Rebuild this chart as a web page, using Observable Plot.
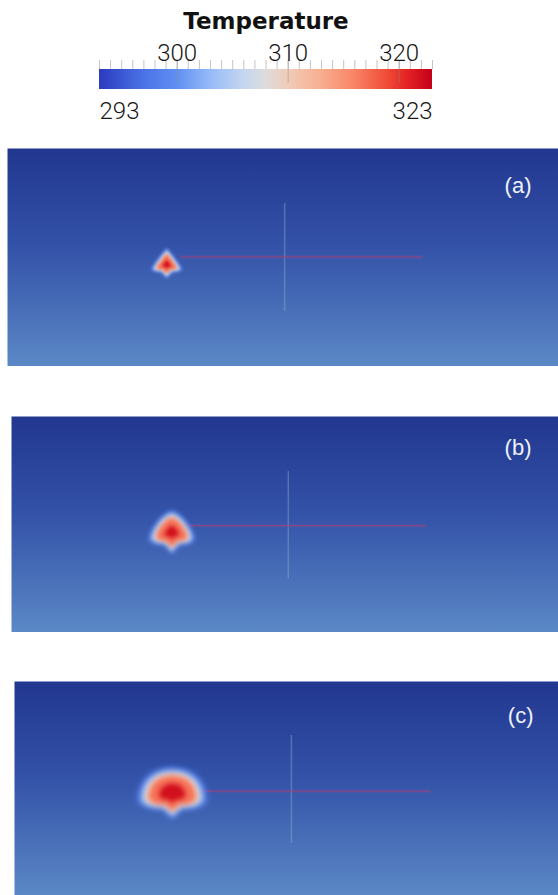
<!DOCTYPE html>
<html><head><meta charset="utf-8">
<script src="https://cdn.jsdelivr.net/npm/d3@7"></script>
<script src="https://cdn.jsdelivr.net/npm/@observablehq/plot@0.6"></script>
<style>
body{margin:0;background:#fff;}
#root{position:relative;width:558px;height:895px;overflow:hidden;background:#fff;}
#root > div{position:absolute;}
svg{display:block;}
</style></head><body><div id="root"></div>
<script>
// ---------- data ----------
const legendTitle = "Temperature";
const tempRange = [293, 323];
const majorTicks = [300, 310, 320];
const minorTicks = [293,294,295,296,297,298,299,300,301,302,303,304,305,306,307,308,309,310,311,312,313,314,315,316,317,318,319,320,321,322,323];
const rampTemps  = [293, 297, 300, 303, 306, 308, 310, 313, 316, 319, 321, 323];
const rampColors = ["#2b3bbf","#4a72e6","#5f8ff2","#96baf8","#c4d6f0","#dcdcdc","#f0ccb8","#f9ae90","#f88466","#f04a36","#e01e22","#c20018"];

const panelLabels = ["(a)", "(b)", "(c)"];
// hot spot centre (model units, x 0-100, y 0-40)
const spotX = [28.9, 29.3, 29.0];
const spotY = [18.7, 18.5, 19.1];
// isotherm levels and their half-widths (model units) per panel
const isoTemps = [298, 302, 307, 312, 317, 322];
const isoHalfWidthA = [3.0, 2.6, 2.3, 2.0, 1.7, 0.8];
const isoHalfWidthB = [4.4, 3.9, 3.5, 3.1, 2.7, 1.3];
const isoHalfWidthC = [6.7, 5.9, 5.3, 4.8, 4.2, 2.4];
// scan track (red line)
const trackY      = [20.1, 19.8, 19.5];
const trackStartX = [31.4, 31.4, 33.3];
const trackEndX   = [75.5, 76.0, 76.6];
// vertical probe line
const probeX  = [50.3, 50.6, 50.9];
const probeY1 = [10.1, 10.0, 9.7];
const probeY2 = [29.9, 29.8, 29.9];

// ---------- layout / style ----------
const layout = {
  legend: {width: 558, height: 130, barLeft: 99, barRight: 432, barTop: 69, barBottom: 89},
  panels: [
    {left: 7,  top: 148, width: 551, height: 218, labelDx: -27, labelDy: 37, blur: 1.6,
     shape: {top: 1.05, side: 0.3, k: 0.1, bw: 0.4, bottom: 0.5, tip: 0.9}},
    {left: 11, top: 416, width: 547, height: 216, labelDx: -27, labelDy: 31, blur: 2.0,
     shape: {top: 0.95, side: 0.3, k: 0.35, bw: 0.35, bottom: 0.55, tip: 0.95}},
    {left: 14, top: 681, width: 544, height: 214, labelDx: -25, labelDy: 34, blur: 2.6,
     shape: {top: 0.75, side: 0.2, k: 0.6, bw: 0.3, bottom: 0.48, tip: 0.75}}
  ]
};
const isoHalfWidth = [isoHalfWidthA, isoHalfWidthB, isoHalfWidthC];
const root = document.getElementById("root");

function place(node, left, top) {
  const div = document.createElement("div");
  div.style.left = left + "px";
  div.style.top = top + "px";
  div.appendChild(node);
  root.appendChild(div);
}
function addGradient(svg, id, stops, vertical) {
  const ns = "http://www.w3.org/2000/svg";
  const defs = document.createElementNS(ns, "defs");
  const g = document.createElementNS(ns, "linearGradient");
  g.setAttribute("id", id);
  g.setAttribute("x1", 0); g.setAttribute("y1", 0);
  g.setAttribute("x2", vertical ? 0 : 1); g.setAttribute("y2", vertical ? 1 : 0);
  stops.forEach(([o, c]) => {
    const s = document.createElementNS(ns, "stop");
    s.setAttribute("offset", o); s.setAttribute("stop-color", c);
    g.appendChild(s);
  });
  defs.appendChild(g);
  svg.insertBefore(defs, svg.firstChild);
}

// ---------- colour bar ----------
const L = layout.legend;
const numFont = "Roboto, 'Liberation Sans', sans-serif";
const legend = Plot.plot({
  width: L.width, height: L.height, margin: 0,
  x: {domain: tempRange, range: [L.barLeft, L.barRight], axis: null},
  y: {domain: [0, 1], range: [L.barBottom, L.barTop], axis: null},
  marks: [
    Plot.rect([tempRange], {x1: d => d[0], x2: d => d[1], y1: 0, y2: 1, fill: "url(#ramp)"}),
    Plot.ruleX(minorTicks, {x: d => d, y1: 1, y2: 1.45, stroke: "#c4c4c4", strokeWidth: 1}),
    Plot.ruleX(majorTicks, {x: d => d, y1: 0.3, y2: 1.45, stroke: "#8a8a8a", strokeOpacity: 0.45, strokeWidth: 1}),
    Plot.text(majorTicks, {x: d => d, y: 1, dy: -9, text: d => String(d), lineAnchor: "bottom",
      fontSize: 24, fontWeight: 300, fontFamily: numFont, fill: "#151515"}),
    Plot.text([legendTitle], {x: d3.mean(tempRange), y: 1, dy: -41, text: d => d, lineAnchor: "bottom",
      fontSize: 23, fontWeight: "bold", fontFamily: "'DejaVu Sans', sans-serif", fill: "#111"}),
    Plot.text([tempRange[0]], {x: d => d, y: 0, dy: 12, text: d => String(d), textAnchor: "start", lineAnchor: "top",
      fontSize: 24, fontWeight: 300, fontFamily: numFont, fill: "#151515"}),
    Plot.text([tempRange[1]], {x: d => d, y: 0, dy: 12, text: d => String(d), textAnchor: "end", lineAnchor: "top",
      fontSize: 24, fontWeight: 300, fontFamily: numFont, fill: "#151515"})
  ]
});
addGradient(legend, "ramp", rampTemps.map((t, j) => [(t - tempRange[0]) / (tempRange[1] - tempRange[0]), rampColors[j]]), false);
place(legend, 0, 0);

// ---------- panels ----------
function spotSymbol(s) {
  return {draw(ctx, size) {
    const r = Math.sqrt(size / Math.PI);
    const cy = (s.side - s.k * (s.side + s.top)) * r;
    ctx.moveTo(-r, s.side * r);
    ctx.bezierCurveTo(-r, cy, -s.k * r, -s.top * r, 0, -s.top * r);
    ctx.bezierCurveTo(s.k * r, -s.top * r, r, cy, r, s.side * r);
    ctx.quadraticCurveTo(0.9 * r, s.bottom * r, s.bw * r, s.bottom * r);
    ctx.lineTo(0, s.tip * r);
    ctx.lineTo(-s.bw * r, s.bottom * r);
    ctx.quadraticCurveTo(-0.9 * r, s.bottom * r, -r, s.side * r);
    ctx.closePath();
  }};
}

layout.panels.forEach((p, i) => {
  const sx = Plot.scale({x: {domain: [0, 100], range: [0, p.width]}});
  const pxPerUnit = sx.apply(1) - sx.apply(0);
  const layers = isoTemps.map((T, j) => ({T, hw: isoHalfWidth[i][j]}));
  const svg = Plot.plot({
    width: p.width, height: p.height, margin: 0,
    x: {domain: [0, 100], axis: null},
    y: {domain: [0, 40], axis: null},
    r: {type: "identity"},
    color: {type: "linear", domain: rampTemps, range: rampColors},
    marks: [
      Plot.frame({fill: `url(#bg${i})`, stroke: "none"}),
      Plot.ruleX([probeX[i]], {x: d => d, y1: probeY1[i], y2: probeY2[i], stroke: "#8fb3cf", strokeOpacity: 0.4, strokeWidth: 1.5}),
      Plot.ruleY([trackY[i]], {y: d => d, x1: trackStartX[i], x2: trackEndX[i], stroke: "#7a4fa0", strokeOpacity: 0.25, strokeWidth: 4}),
      Plot.ruleY([trackY[i]], {y: d => d, x1: trackStartX[i], x2: trackEndX[i], stroke: "#c8385e", strokeOpacity: 0.45, strokeWidth: 1.2}),
      Plot.dot(layers, {x: () => spotX[i], y: () => spotY[i], r: d => d.hw * pxPerUnit, fill: "T",
        fillOpacity: d => d.T < 300 ? 0.6 : 1, symbol: spotSymbol(p.shape), stroke: "none"}),
      Plot.text([panelLabels[i]], {frameAnchor: "top-right", dx: p.labelDx, dy: p.labelDy, text: d => d,
        textAnchor: "end", lineAnchor: "middle", fill: "#eef2fb", fontSize: 22,
        fontFamily: "'Liberation Sans', Arial, sans-serif"})
    ]
  });
  addGradient(svg, `bg${i}`, [[0, "#22378f"], [0.45, "#3352a8"], [1, "#5b88c6"]], true);
  d3.select(svg).selectAll('g[aria-label="dot"]').style("filter", `blur(${p.blur}px)`);
  place(svg, p.left, p.top);
});
</script>
</body></html>
